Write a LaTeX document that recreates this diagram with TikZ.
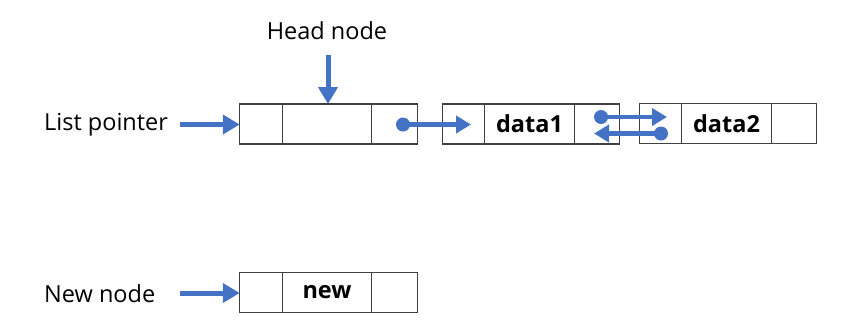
\documentclass[tikz,border=0pt]{standalone}
\usepackage{fontspec}
\setmainfont{Open Sans}
\usetikzlibrary{arrows.meta,calc}
\definecolor{ablue}{HTML}{4472C4}
\definecolor{bline}{HTML}{404040}
\begin{document}
\begin{tikzpicture}[x=1pt,y=-1pt,
  cell/.style={draw=bline,line width=1.2pt,minimum height=40pt,inner sep=0pt,outer sep=0pt,font=\fontsize{23.5}{27}\selectfont\bfseries},
  small/.style={cell,minimum width=42.5pt},
  last/.style={cell,minimum width=45.5pt},
  wide/.style={cell,minimum width=89.5pt},
  lbl/.style={font=\fontsize{23.5}{27}\selectfont,inner sep=0pt},
  bigarr/.style={draw=ablue,line width=5pt,-{Triangle[length=17pt,width=19pt]}},
  ptr/.style={draw=ablue,line width=4.5pt,-{Triangle[length=15pt,width=17pt]}},
  dot/.style={circle,fill=ablue,minimum size=14pt,inner sep=0pt}]
\useasboundingbox (0,0) rectangle (850,333);
% head box
\node[small] (h1) at (261,124) {};
\node[wide,anchor=west] (h2) at (h1.east) {};
\node[last,anchor=west] (h3) at (h2.east) {};
% data1 box
\node[small] (a1) at (463.5,124) {};
\node[wide,anchor=west] (a2) at (a1.east) {data1};
\node[last,anchor=west] (a3) at (a2.east) {};
% data2 box
\node[small] (b1) at (660.5,123.5) {};
\node[wide,anchor=west] (b2) at (b1.east) {data2};
\node[last,anchor=west] (b3) at (b2.east) {};
% new box
\node[small] (n1) at (261,292.5) {};
\node[wide,anchor=west] (n2) at (n1.east) {new};
\node[last,anchor=west] (n3) at (n2.east) {};
% labels
\node[lbl] (hn) at (327,31) {Head node};
\node[lbl,anchor=west] (lp) at (44,125) {List pointer};
\node[lbl,anchor=west] (nn) at (44,294) {New node};
% arrows
\draw[bigarr] (328,55) coordinate (hs) -- (hs |- h2.north);
\draw[bigarr] (180,124.5) coordinate (ls) -- (h1.west |- ls);
\draw[bigarr] (180,293) coordinate (ns) -- (n1.west |- ns);
% pointers
\node[dot] (d0) at (403,124.5) {};
\coordinate (t0) at (471,124.5);
\draw[ptr] (d0.center) -- (t0);
\node[dot] (d1) at (601,117) {};
\coordinate (t1) at (667,117);
\draw[ptr] (d1.center) -- (t1);
\node[dot] (d2) at (661,133.5) {};
\coordinate (t2) at (594,133.5);
\draw[ptr] (d2.center) -- (t2);
\end{tikzpicture}
\end{document}
